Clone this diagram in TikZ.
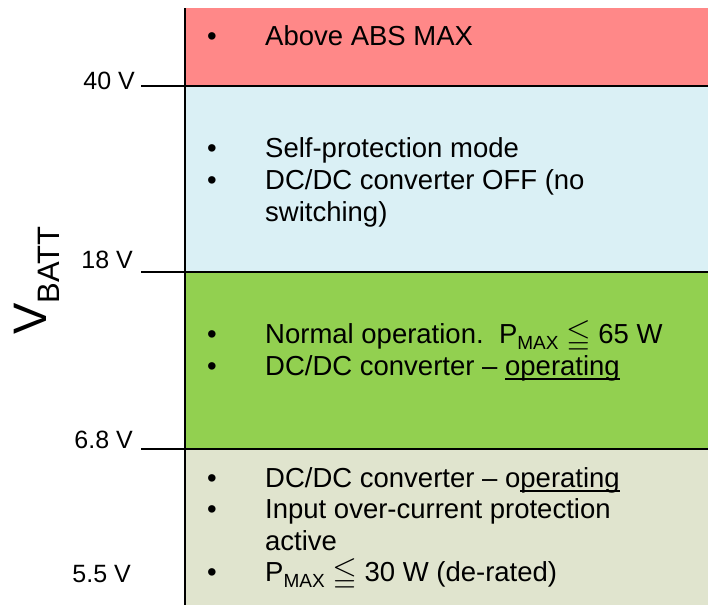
\documentclass[tikz,border=0pt]{standalone}
\usepackage{amssymb}
\usepackage{graphicx}
\usepackage{fontspec}
\setmainfont{Liberation Sans}
\definecolor{redc}{HTML}{FF8888}
\definecolor{bluec}{HTML}{DAF0F5}
\definecolor{greenc}{HTML}{92D050}
\definecolor{beigec}{HTML}{E0E4CE}
\newcommand\myul[1]{\setbox0\hbox{#1}\rlap{\rule[-4.5pt]{\wd0}{1.6pt}}\box0}
\newcommand\pmax{P\raisebox{-6pt}{\fontsize{19}{19}\selectfont MAX}}
\newcommand\myleq{\raisebox{-1pt}{\scalebox{1.15}{$\leqq$}}}
\tikzset{
  body/.style={anchor=base west, inner sep=0pt, font=\fontsize{27.5}{33}\selectfont},
  bul/.style={anchor=base west, inner sep=0pt, font=\fontsize{27.5}{33}\selectfont},
  vlab/.style={anchor=base east, inner sep=0pt, font=\fontsize{25}{30}\selectfont},
  hline/.style={line width=2.5pt},
  axisline/.style={line width=2.8pt}
}
\begin{document}
\begin{tikzpicture}[x=1pt,y=-1pt]
\useasboundingbox (0,0) rectangle (708,605);
% regions
\fill[redc] (185,8) rectangle (708,86);
\fill[bluec] (185,86) rectangle (708,272);
\fill[greenc] (185,272) rectangle (708,449);
\fill[beigec] (185,449) rectangle (708,605);
% tick ends
\coordinate (t40a) at (141,86);  \coordinate (t40b) at (708,86);
\coordinate (t18a) at (141,272); \coordinate (t18b) at (708,272);
\coordinate (t68a) at (141,449); \coordinate (t68b) at (708,449);
\coordinate (axtop) at (185,8);  \coordinate (axbot) at (185,605);
\draw[hline] (t40a) -- (t40b);
\draw[hline] (t18a) -- (t18b);
\draw[hline] (t68a) -- (t68b);
\draw[axisline] (axtop) -- (axbot);
% voltage labels
\node[vlab] (l40) at (135,89) {40 V};
\node[vlab] (l18) at (133,268) {18 V};
\node[vlab] (l68) at (133,448) {6.8 V};
\node[vlab] (l55) at (131,582) {5.5 V};
% axis title
\node[rotate=90, anchor=base west, inner sep=0pt] (vbatt) at (46,335)
  {\fontsize{47}{50}\selectfont V\raisebox{-13pt}{\fontsize{31}{33}\selectfont BATT}};
% red
\node[bul] (b1) at (207,45) {•};
\node[body] (s1) at (265,45) {Above ABS MAX};
% blue
\node[bul] (b2) at (207,157) {•};
\node[body] (s2) at (265,157) {Self-protection mode};
\node[bul] (b3) at (207,189) {•};
\node[body] (s3) at (265,189) {DC/DC converter OFF (no};
\node[body] (s3b) at (265,221) {switching)};
% green
\node[bul] (b4) at (207,343) {•};
\node[body] (s4) at (265,343) {Normal operation.\ \ \pmax\ \myleq\ 65 W};
\node[bul] (b5) at (207,375) {•};
\node[body] (s5) at (265,375) {DC/DC converter – \myul{operating}};
% beige
\node[bul] (b6) at (207,487) {•};
\node[body] (s6) at (265,487) {DC/DC converter – o\myul{perating}};
\node[bul] (b7) at (207,518) {•};
\node[body] (s7) at (265,518) {Input over-current protection};
\node[body] (s7b) at (265,550) {active};
\node[bul] (b8) at (207,581) {•};
\node[body] (s8) at (265,581) {\pmax\ \myleq\ 30 W (de-rated)};
\end{tikzpicture}
\end{document}
